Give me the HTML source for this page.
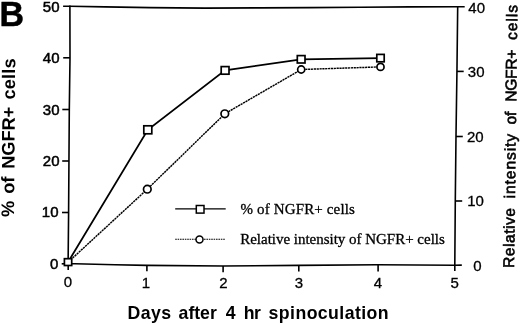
<!DOCTYPE html>
<html>
<head>
<meta charset="utf-8">
<style>
html,body{margin:0;padding:0;background:#fff;}
body{width:520px;height:324px;overflow:hidden;}
svg{display:block;will-change:transform;}
.sb{font-family:"Liberation Sans",sans-serif;font-weight:bold;}
.sr{font-family:"Liberation Sans",sans-serif;}
.se{font-family:"Liberation Serif",serif;}
</style>
</head>
<body>
<svg width="520" height="324" viewBox="0 0 520 324">
<rect width="520" height="324" fill="#fff"/>
<!-- panel letter -->
<text class="sb" x="0" y="0" font-size="35.6" fill="#000" stroke="#000" stroke-width="0.5" transform="translate(-0.4,26.05) scale(0.955,1)">B</text>

<!-- frame -->
<g stroke="#000" stroke-width="1.6" fill="none" stroke-linecap="butt" stroke-linejoin="round">
  <polyline points="63.1,6.2 70,6.3 105,6.9 150,7.6 205,8.1 260,7.9 310,7.6 360,7.2 410,6.9 457.7,6.8 464.7,6.7"/>
  <polyline points="69.9,5.5 70,58 69.3,109.5 68.95,161 68.6,212.5 68.1,264"/>
  <polyline points="457.7,6 456.95,71 456,136 455.3,200 454.8,265.2"/>
  <polyline points="68.1,263.8 75,263.8 115,264.75 147,265.4 223,266 299,265.4 378,264.75 454.8,265.2 461.8,265.1"/>
  <!-- left ticks -->
  <line x1="63.2" y1="57.8" x2="70" y2="57.8"/>
  <line x1="62.3" y1="109.5" x2="69.3" y2="109.5"/>
  <line x1="62.2" y1="161" x2="69" y2="161"/>
  <line x1="62" y1="212.5" x2="68.6" y2="212.5"/>
  <line x1="61.7" y1="263.8" x2="68.2" y2="263.8"/>
  <!-- right ticks -->
  <line x1="457" y1="71.4" x2="463.7" y2="71.4"/>
  <line x1="456" y1="136.5" x2="462.8" y2="136.5"/>
  <line x1="455.3" y1="201" x2="462.2" y2="201"/>
  <!-- x ticks -->
  <line x1="68.2" y1="264" x2="68.2" y2="269.9"/>
  <line x1="146.9" y1="265.4" x2="146.9" y2="271.3"/>
  <line x1="223.1" y1="266" x2="223.1" y2="272.3"/>
  <line x1="298.8" y1="265.4" x2="298.8" y2="271.5"/>
  <line x1="378.1" y1="264.8" x2="378.1" y2="271.5"/>
  <line x1="454.8" y1="265.2" x2="454.8" y2="270.9"/>
</g>

<!-- tick labels left -->
<g class="sr" font-size="15" fill="#000" stroke="#000" stroke-width="0.5" text-anchor="end">
  <text x="59.5" y="11.6">50</text>
  <text x="59.5" y="63.1">40</text>
  <text x="59.5" y="114.7">30</text>
  <text x="59.5" y="166">20</text>
  <text x="58.5" y="217.2">10</text>
  <text x="58.3" y="269.3">0</text>
</g>
<!-- tick labels right -->
<g class="sr" font-size="15" fill="#000" stroke="#000" stroke-width="0.3">
  <text x="468.3" y="13.1">40</text>
  <text x="467.8" y="76.6">30</text>
  <text x="466.9" y="141.5">20</text>
  <text x="467.2" y="206.2">10</text>
  <text x="473.3" y="271.2">0</text>
</g>
<!-- tick labels x -->
<g class="sr" font-size="15" fill="#000" stroke="#000" stroke-width="0.3" text-anchor="middle">
  <text x="68" y="287">0</text>
  <text x="146" y="288.2">1</text>
  <text x="223.5" y="288.1">2</text>
  <text x="299" y="287.8">3</text>
  <text x="378" y="288.2">4</text>
  <text x="454.6" y="287.8">5</text>
</g>

<!-- axis titles -->
<g class="sb" font-size="17.7" fill="#000">
  <text x="127.6" y="318.5" textLength="43.5" lengthAdjust="spacing">Days</text>
  <text x="178.6" y="318.5" textLength="38.2" lengthAdjust="spacing">after</text>
  <text x="225.8" y="318.5">4</text>
  <text x="243.8" y="318.5" textLength="17.2" lengthAdjust="spacing">hr</text>
  <text x="268.6" y="318.5" textLength="120" lengthAdjust="spacing">spinoculation</text>
</g>
<g class="sb" font-size="18.2" fill="#000" transform="translate(14.1,216.4) rotate(-89.6)">
  <text x="-0.6" y="0">%</text>
  <text x="22.6" y="0" textLength="17" lengthAdjust="spacing">of</text>
  <text x="47.6" y="0" textLength="62" lengthAdjust="spacing">NGFR+</text>
  <text x="117" y="0" textLength="41" lengthAdjust="spacing">cells</text>
</g>
<g class="sr" font-size="15.5" fill="#000" stroke="#000" stroke-width="0.6" transform="translate(514.1,267) rotate(-89.28)">
  <text x="-1" y="0" textLength="60" lengthAdjust="spacing">Relative</text>
  <text x="68.6" y="0" textLength="64.5" lengthAdjust="spacing">intensity</text>
  <text x="142.5" y="0">of</text>
  <text x="165.3" y="0" textLength="52" lengthAdjust="spacing">NGFR+</text>
  <text x="227" y="0" textLength="35" lengthAdjust="spacing">cells</text>
</g>

<!-- data: circles dotted -->
<g stroke="#000" fill="none">
  <polyline points="70.5,260 147.3,189.2 224.8,113.8 301.2,69.5 380.5,66.9" stroke-width="1.45" stroke-dasharray="2.2 0.65"/>
  <polyline points="68,262.2 147.8,129.8 225,70.3 301.1,59.3 380.3,58.1" stroke-width="1.8"/>
</g>
<g stroke="#000" stroke-width="1.7" fill="#fff">
  <circle cx="147.3" cy="189.2" r="3.8"/>
  <circle cx="224.8" cy="113.8" r="3.8"/>
  <circle cx="301.2" cy="69.5" r="3.55"/>
  <circle cx="380.5" cy="66.9" r="3.55"/>
  <rect x="64.4" y="258.7" width="7.3" height="6.8"/>
  <rect x="143.8" y="125.8" width="8" height="8"/>
  <rect x="221.2" y="66.6" width="7.8" height="7.6"/>
  <rect x="297.3" y="55.6" width="7.7" height="7.4"/>
  <rect x="376.8" y="54.4" width="7.4" height="7.4"/>
</g>

<!-- legend -->
<g stroke="#000" fill="none">
  <line x1="175.2" y1="208.8" x2="225.7" y2="208.8" stroke-width="1.2"/>
  <line x1="175.2" y1="239.2" x2="225.2" y2="239.2" stroke-width="1.1" stroke-dasharray="1.6 0.8"/>
</g>
<g stroke="#000" stroke-width="1.5" fill="#fff">
  <rect x="196.3" y="205.5" width="7.7" height="7.6"/>
  <circle cx="199.5" cy="239.4" r="3.5"/>
</g>
<g class="se" font-size="15" fill="#000" stroke="#000" stroke-width="0.3">
  <text x="240.5" y="214.2" textLength="114.4" lengthAdjust="spacing">% of NGFR+ cells</text>
  <text x="240.2" y="243.9" textLength="204.6" lengthAdjust="spacing">Relative intensity of NGFR+ cells</text>
</g>
</svg>
</body>
</html>
